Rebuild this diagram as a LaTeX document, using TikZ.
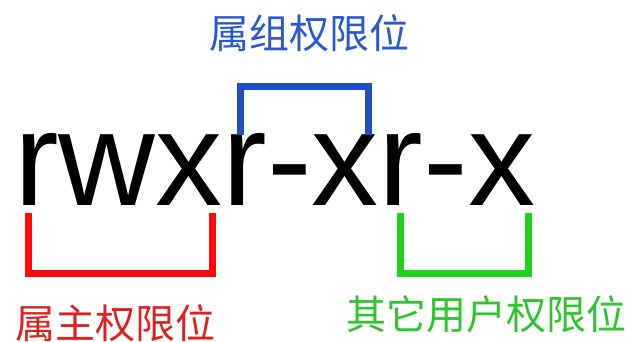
\documentclass[tikz,border=0pt]{standalone}
\usepackage{fontspec}
\setmainfont{Liberation Sans}
\newfontfamily\cjk{Noto Sans CJK SC}
\definecolor{gblue}{HTML}{1E4FC8}
\definecolor{gred}{HTML}{FF0808}
\definecolor{ggreen}{HTML}{1ED31E}
\definecolor{tblue}{HTML}{2A58D0}
\definecolor{tred}{HTML}{DE2020}
\definecolor{tgreen}{HTML}{2FC52F}
\tikzset{
  bracketline/.style={line width=7pt, line cap=butt, line join=miter},
  label/.style={inner sep=0pt, anchor=base, font=\cjk\fontsize{40}{40}\selectfont},
  perm/.style={inner sep=0pt, anchor=base west, font=\fontsize{134}{134}\selectfont}
}
\begin{document}
\begin{tikzpicture}[x=1pt,y=-1pt]
\useasboundingbox (0,0) rectangle (629,342);
\node[perm] (bits) at (14,205) {rwxr-xr-x};
\node[label, text=tblue] (group) at (309,49) {属组权限位};
\node[label, text=tred] (owner) at (115.5,338) {属主权限位};
\node[label, text=tgreen] (other) at (486,329) {其它用户权限位};
% blue bracket (group)
\coordinate (b1) at (240,135);
\coordinate (b2) at (240,86.5);
\coordinate (b3) at (368,86.5);
\coordinate (b4) at (368,135);
\draw[bracketline, gblue] (b1) -- (b2) -- (b3) -- (b4);
% red bracket (owner)
\coordinate (r1) at (28.5,213);
\coordinate (r2) at (28.5,273.5);
\coordinate (r3) at (212,273.5);
\coordinate (r4) at (212,213);
\draw[bracketline, gred] (r1) -- (r2) -- (r3) -- (r4);
% green bracket (other)
\coordinate (g1) at (400,213);
\coordinate (g2) at (400,273.5);
\coordinate (g3) at (528,273.5);
\coordinate (g4) at (528,213);
\draw[bracketline, ggreen] (g1) -- (g2) -- (g3) -- (g4);
\end{tikzpicture}
\end{document}
